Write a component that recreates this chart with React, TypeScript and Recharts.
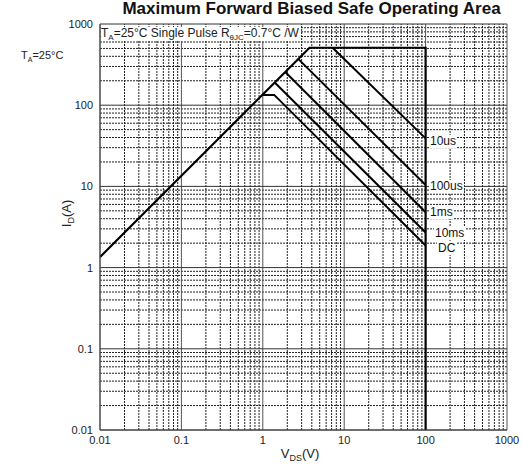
import React from "react";
import { LineChart, Line, XAxis, YAxis, ReferenceLine } from "recharts";

// Axis decades (log-log)
const decades = [0.01, 0.1, 1, 10, 100, 1000];
const minorSteps = [2, 3, 4, 5, 6, 7, 8, 9];

// SOA boundary: Rds(on) limit, package current limit, BVdss
const limitV = [0.01, 3.75, 100, 100];
const limitI = [1.35, 510, 510, 0.01];

// Pulse width lines
const us10V = [7.2, 100];
const us10I = [510, 39];
const us100V = [2.7, 100];
const us100I = [375, 10.4];
const ms1V = [1.9, 100];
const ms1I = [255, 4.8];
const ms10V = [1.4, 100];
const ms10I = [190, 2.7];
const dcV = [1.0, 1.38, 100];
const dcI = [134, 134, 1.87];

const lineLabels = ["10us", "100us", "1ms", "10ms", "DC"];
const labelTops = [135, 180, 206, 227, 242];
const labelLefts = [429, 429, 429, 434, 437];

const font = '"Liberation Sans", Arial, Helvetica, sans-serif';

const toPoints = (v: number[], i: number[]) => v.map((x, k) => ({ v: x, i: i[k] }));

const minors = decades.slice(0, -1).flatMap((d) => minorSteps.map((m) => +(d * m).toPrecision(3)));

export default function App() {
  const series = [
    { key: "limit", data: toPoints(limitV, limitI), w: 2.2 },
    { key: "10us", data: toPoints(us10V, us10I), w: 2 },
    { key: "100us", data: toPoints(us100V, us100I), w: 2 },
    { key: "1ms", data: toPoints(ms1V, ms1I), w: 2 },
    { key: "10ms", data: toPoints(ms10V, ms10I), w: 2 },
    { key: "dc", data: toPoints(dcV, dcI), w: 2 },
  ];

  return (
    <div style={{ position: "absolute", left: 0, top: 0, width: 522, height: 468, background: "#fff", fontFamily: font }}>
      <LineChart width={522} height={468} margin={{ top: 24, right: 15, bottom: 8, left: 0 }}>
        <XAxis
          type="number"
          dataKey="v"
          scale="log"
          domain={[0.01, 1000]}
          ticks={decades}
          allowDataOverflow
          height={30}
          tickLine={false}
          tickSize={0}
          tickMargin={6}
          axisLine={{ stroke: "#444" }}
          tick={{ fontSize: 11, fill: "#222", fontFamily: font }}
          tickFormatter={(t: number) => String(t)}
        />
        <YAxis
          type="number"
          dataKey="i"
          scale="log"
          domain={[0.01, 1000]}
          ticks={decades}
          allowDataOverflow
          width={100}
          tickLine={false}
          tickSize={0}
          tickMargin={7}
          axisLine={{ stroke: "#444" }}
          tick={{ fontSize: 11, fill: "#222", fontFamily: font }}
          tickFormatter={(t: number) => String(t)}
        />
        {minors.map((m) => (
          <ReferenceLine key={"vx" + m} x={m} stroke="#222" strokeWidth={1} strokeDasharray="2 1" />
        ))}
        {minors.map((m) => (
          <ReferenceLine key={"hy" + m} y={m} stroke="#222" strokeWidth={1} strokeDasharray="2 1" />
        ))}
        {decades.map((d) => (
          <ReferenceLine key={"VX" + d} x={d} stroke="#555" strokeWidth={1} />
        ))}
        {decades.map((d) => (
          <ReferenceLine key={"HY" + d} y={d} stroke="#333" strokeWidth={1} />
        ))}
        {series.map((s) => (
          <Line
            key={s.key}
            data={s.data}
            dataKey="i"
            type="linear"
            stroke="#000"
            strokeWidth={s.w}
            dot={false}
            activeDot={false}
            isAnimationActive={false}
          />
        ))}
      </LineChart>

      <div style={{ position: "absolute", left: 118, width: 387, top: 0, textAlign: "center", fontSize: 17, fontWeight: "bold", lineHeight: "17px", color: "#111", whiteSpace: "nowrap" }}>
        Maximum Forward Biased Safe Operating Area
      </div>

      <div style={{ position: "absolute", left: 21, top: 49, fontSize: 11, lineHeight: "12px", color: "#222" }}>
        T<span style={{ fontSize: 7, position: "relative", top: 3 }}>A</span>=25°C
      </div>

      <div style={{ position: "absolute", left: 101, top: 27, fontSize: 12, lineHeight: "13px", color: "#222", background: "#fff", paddingRight: 1 }}>
        T<span style={{ fontSize: 8, position: "relative", top: 3 }}>A</span>=25°C Single Pulse R
        <span style={{ fontSize: 8, position: "relative", top: 3 }}>θJC</span>=0.7°C /W
      </div>

      {lineLabels.map((l, k) => (
        <div
          key={l}
          style={{ position: "absolute", left: labelLefts[k], top: labelTops[k], fontSize: 12, lineHeight: "13px", color: "#111", background: "#fff", padding: "0 1px" }}
        >
          {l}
        </div>
      ))}

      <div style={{ position: "absolute", left: 250, width: 100, top: 447, textAlign: "center", fontSize: 13, lineHeight: "14px", color: "#222" }}>
        V<span style={{ fontSize: 9, position: "relative", top: 3 }}>DS</span>(V)
      </div>

      <div
        style={{ position: "absolute", left: 27, top: 206, width: 80, textAlign: "center", fontSize: 13, lineHeight: "14px", color: "#222", transform: "rotate(-90deg)" }}
      >
        I<span style={{ fontSize: 9, position: "relative", top: 3 }}>D</span>(A)
      </div>
    </div>
  );
}
